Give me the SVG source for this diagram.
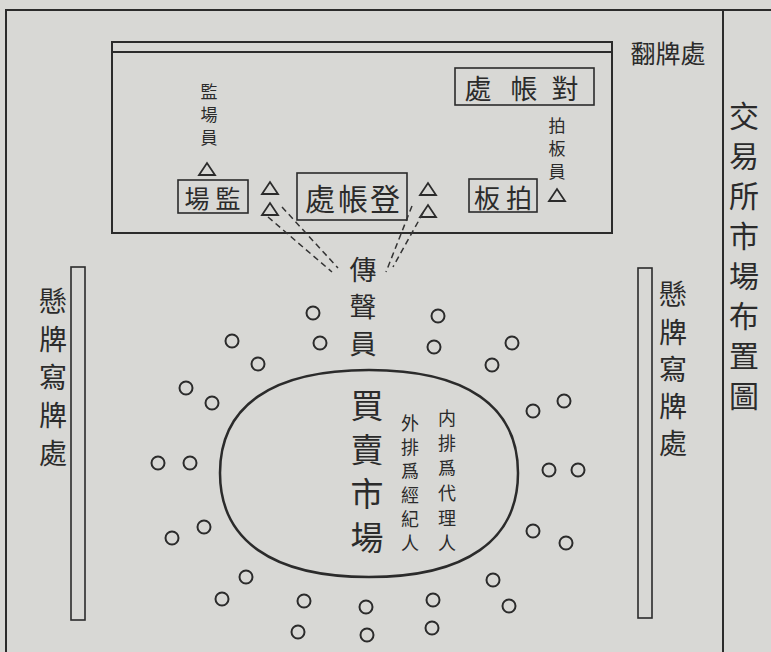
<svg xmlns="http://www.w3.org/2000/svg" xmlns:xlink="http://www.w3.org/1999/xlink" width="771" height="652" viewBox="0 0 771 652">
<style>
.ink{fill:none;stroke:#2b2b2b;stroke-width:2}
.thin{fill:none;stroke:#2b2b2b;stroke-width:1.6}
.dash{fill:none;stroke:#333;stroke-width:1.5;stroke-dasharray:6,4}
.t{font-family:"Noto Sans CJK TC","Noto Sans CJK SC",sans-serif;fill:#2b2b2b;text-anchor:middle;dominant-baseline:central}
</style>
<defs>
<path id="tri" d="M-8,6 L8,6 L0,-6 Z" fill="none" stroke="#2b2b2b" stroke-width="1.8"/>
<circle id="dot" r="6.5" fill="none" stroke="#2b2b2b" stroke-width="2"/>
</defs>
<rect width="771" height="652" fill="#d8d8d5"/>
<g id="frame">
<path class="ink" d="M6,652 V10 H771 M723,10 V652"/>
</g>
<g id="title">
<text class="t" font-size="30"><tspan x="744" y="114">交</tspan><tspan x="744" y="154">易</tspan><tspan x="744" y="194">所</tspan><tspan x="744" y="234">市</tspan><tspan x="744" y="274">場</tspan><tspan x="744" y="314">布</tspan><tspan x="744" y="354">置</tspan><tspan x="744" y="394">圖</tspan></text>
</g>
<g id="flip-board">
<path class="ink" d="M112,233 V42 H612 V233 Z M112,52 H612"/>
<text class="t" font-size="25" x="668" y="52">翻牌處</text>
</g>
<g id="reconcile">
<rect class="thin" x="455" y="68" width="139" height="37"/>
<text class="t" font-size="27"><tspan x="478" y="87">處</tspan><tspan x="524" y="87">帳</tspan><tspan x="565" y="87">對</tspan></text>
</g>
<g id="supervisor-clerk">
<text class="t" font-size="17"><tspan x="209" y="90">監</tspan><tspan x="209" y="113">場</tspan><tspan x="209" y="136">員</tspan></text>
<use xlink:href="#tri" x="207" y="169"/>
</g>
<g id="supervisor">
<rect class="thin" x="178" y="180" width="70" height="33"/>
<text class="t" font-size="25"><tspan x="197" y="197">場</tspan><tspan x="228" y="197">監</tspan></text>
</g>
<g id="registry">
<rect class="thin" x="297" y="173" width="110" height="47"/>
<text class="t" font-size="30"><tspan x="320" y="197">處</tspan><tspan x="353" y="197">帳</tspan><tspan x="385" y="197">登</tspan></text>
<use xlink:href="#tri" x="270" y="188"/>
<use xlink:href="#tri" x="270" y="209"/>
<use xlink:href="#tri" x="428" y="189"/>
<use xlink:href="#tri" x="428" y="211"/>
</g>
<g id="clapper">
<rect class="thin" x="469" y="179" width="68" height="33"/>
<text class="t" font-size="26"><tspan x="487" y="196">板</tspan><tspan x="519" y="196">拍</tspan></text>
</g>
<g id="clapper-clerk">
<text class="t" font-size="17"><tspan x="557" y="124">拍</tspan><tspan x="557" y="147">板</tspan><tspan x="557" y="170">員</tspan></text>
<use xlink:href="#tri" x="557" y="195"/>
</g>
<g id="connectors">
<path class="dash" d="M268,217 L332,272"/>
<path class="dash" d="M282,207 L338,268"/>
<path class="dash" d="M412,206 L386,272"/>
<path class="dash" d="M423,213 L393,267"/>
</g>
<g id="announcer">
<text class="t" font-size="27"><tspan x="363" y="268">傳</tspan><tspan x="363" y="305">聲</tspan><tspan x="363" y="342">員</tspan></text>
</g>
<g id="market">
<path fill="none" stroke="#2b2b2b" stroke-width="2.5" d="M369,370 C466,370 518,406 518,473 C518,540 466,577 369,577 C272,577 220,540 220,473 C220,406 272,370 369,370 Z"/>
<text class="t" font-size="33"><tspan x="367" y="404">買</tspan><tspan x="367" y="448">賣</tspan><tspan x="367" y="492">市</tspan><tspan x="367" y="536">場</tspan></text>
<text class="t" font-size="18"><tspan x="447" y="417">内</tspan><tspan x="447" y="442">排</tspan><tspan x="447" y="467">爲</tspan><tspan x="447" y="492">代</tspan><tspan x="447" y="517">理</tspan><tspan x="447" y="542">人</tspan></text>
<text class="t" font-size="18"><tspan x="410" y="422">外</tspan><tspan x="410" y="446">排</tspan><tspan x="410" y="470">爲</tspan><tspan x="410" y="494">經</tspan><tspan x="410" y="518">紀</tspan><tspan x="410" y="542">人</tspan></text>
</g>
<g id="left-board">
<rect class="thin" x="71" y="267" width="14" height="353"/>
<text class="t" font-size="28"><tspan x="53" y="300">懸</tspan><tspan x="53" y="338">牌</tspan><tspan x="53" y="376">寫</tspan><tspan x="53" y="414">牌</tspan><tspan x="53" y="452">處</tspan></text>
</g>
<g id="right-board">
<rect class="thin" x="638" y="268" width="14" height="350"/>
<text class="t" font-size="28"><tspan x="673" y="293">懸</tspan><tspan x="673" y="331">牌</tspan><tspan x="673" y="368">寫</tspan><tspan x="673" y="405">牌</tspan><tspan x="673" y="442">處</tspan></text>
</g>
<g id="traders">
<use xlink:href="#dot" x="313" y="313"/>
<use xlink:href="#dot" x="320" y="343"/>
<use xlink:href="#dot" x="232" y="341"/>
<use xlink:href="#dot" x="258" y="364"/>
<use xlink:href="#dot" x="186" y="388"/>
<use xlink:href="#dot" x="212" y="403"/>
<use xlink:href="#dot" x="158" y="463"/>
<use xlink:href="#dot" x="190" y="463"/>
<use xlink:href="#dot" x="172" y="538"/>
<use xlink:href="#dot" x="204" y="527"/>
<use xlink:href="#dot" x="246" y="577"/>
<use xlink:href="#dot" x="222" y="599"/>
<use xlink:href="#dot" x="304" y="601"/>
<use xlink:href="#dot" x="298" y="632"/>
<use xlink:href="#dot" x="366" y="607"/>
<use xlink:href="#dot" x="367" y="635"/>
<use xlink:href="#dot" x="438" y="316"/>
<use xlink:href="#dot" x="434" y="347"/>
<use xlink:href="#dot" x="512" y="343"/>
<use xlink:href="#dot" x="492" y="365"/>
<use xlink:href="#dot" x="564" y="401"/>
<use xlink:href="#dot" x="533" y="411"/>
<use xlink:href="#dot" x="549" y="470"/>
<use xlink:href="#dot" x="578" y="470"/>
<use xlink:href="#dot" x="533" y="531"/>
<use xlink:href="#dot" x="566" y="543"/>
<use xlink:href="#dot" x="493" y="580"/>
<use xlink:href="#dot" x="509" y="606"/>
<use xlink:href="#dot" x="433" y="600"/>
<use xlink:href="#dot" x="432" y="628"/>
</g>
</svg>
